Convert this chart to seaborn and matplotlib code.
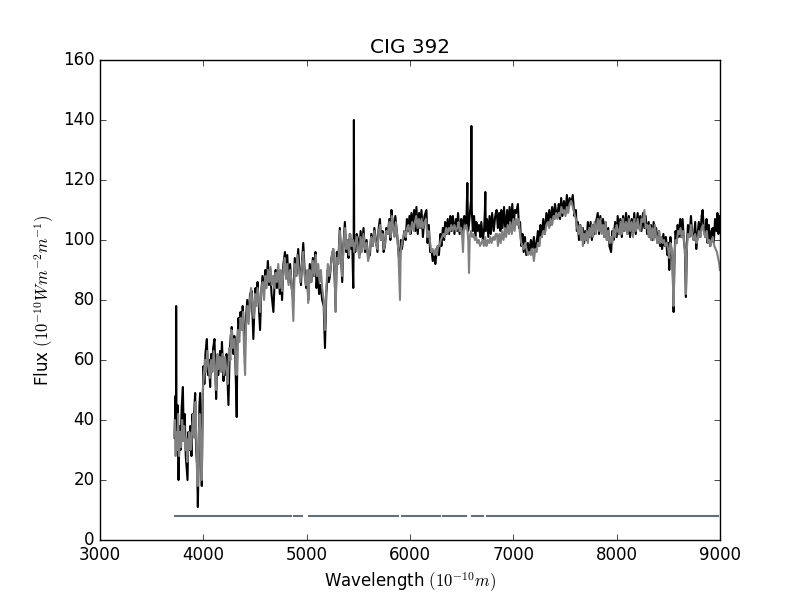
import matplotlib
matplotlib.use('Agg')
import matplotlib.pyplot as plt
import seaborn as sns
import pandas as pd

# observed spectrum (black)
obs_wave = [3722, 3730, 3735, 3737, 3740, 3750, 3760, 3770, 3780, 3790, 3802, 3810, 3820, 3830, 3847,
            3855, 3865, 3873, 3885, 3895, 3905, 3915, 3921, 3930, 3940, 3947, 3955, 3962, 3969, 3977,
            3985, 3993, 4002, 4010, 4020, 4034, 4045, 4055, 4066, 4075, 4085, 4095, 4108, 4116, 4124,
            4135, 4145, 4162, 4172, 4180, 4195, 4205, 4215, 4225, 4243, 4255, 4265, 4275, 4290, 4300,
            4310, 4323, 4330, 4340, 4350, 4360, 4370, 4381, 4392, 4404, 4415, 4425, 4440, 4452, 4468,
            4476, 4484, 4495, 4505, 4515, 4525, 4537, 4549, 4560, 4572, 4585, 4600, 4613, 4625, 4635,
            4648, 4660, 4678, 4690, 4700, 4712, 4726, 4740, 4750, 4762, 4775, 4790, 4800, 4812, 4825,
            4840, 4855, 4871, 4885, 4900, 4918, 4930, 4945, 4955, 4967, 4980, 4995, 5005, 5015, 5030,
            5045, 5060, 5072, 5085, 5095, 5108, 5120, 5135, 5150, 5165, 5177, 5190, 5205, 5215, 5225,
            5240, 5257, 5270, 5280, 5292, 5305, 5321, 5332, 5344, 5355, 5370, 5382, 5395, 5405, 5418,
            5430, 5440, 5451, 5455, 5457, 5460, 5470, 5485, 5499, 5510, 5522, 5535, 5550, 5565, 5580,
            5595, 5612, 5625, 5640, 5655, 5670, 5685, 5697, 5709, 5720, 5735, 5745, 5757, 5770, 5785,
            5800, 5810, 5821, 5832, 5845, 5858, 5869, 5880, 5890, 5901, 5912, 5922, 5933, 5945, 5958,
            5970, 5982, 5995, 6005, 6014, 6028, 6040, 6052, 6062, 6075, 6088, 6100, 6111, 6125, 6140,
            6159, 6170, 6182, 6195, 6207, 6220, 6232, 6245, 6255, 6268, 6280, 6294, 6304, 6318, 6330,
            6340, 6352, 6365, 6378, 6390, 6400, 6415, 6430, 6445, 6455, 6465, 6480, 6495, 6505, 6513,
            6525, 6540, 6548, 6555, 6562, 6570, 6580, 6590, 6594, 6598, 6608, 6620, 6632, 6642, 6655,
            6668, 6680, 6690, 6705, 6718, 6725, 6729, 6733, 6745, 6758, 6770, 6782, 6795, 6810, 6825,
            6838, 6850, 6862, 6875, 6883, 6895, 6910, 6925, 6940, 6952, 6964, 6978, 6990, 7003, 7015,
            7028, 7044, 7055, 7065, 7077, 7090, 7100, 7112, 7125, 7141, 7155, 7170, 7185, 7199, 7212,
            7225, 7238, 7250, 7262, 7275, 7290, 7305, 7320, 7334, 7348, 7360, 7375, 7390, 7403, 7415,
            7428, 7440, 7452, 7463, 7475, 7490, 7505, 7518, 7530, 7545, 7560, 7575, 7591, 7605, 7615,
            7624, 7635, 7648, 7660, 7673, 7685, 7697, 7710, 7721, 7735, 7748, 7760, 7772, 7785, 7800,
            7817, 7830, 7842, 7855, 7868, 7880, 7892, 7905, 7918, 7930, 7946, 7958, 7970, 7985, 8000,
            8010, 8022, 8035, 8050, 8062, 8075, 8091, 8105, 8118, 8130, 8145, 8158, 8170, 8185, 8203,
            8215, 8228, 8240, 8255, 8268, 8280, 8295, 8310, 8320, 8332, 8345, 8358, 8370, 8382, 8395,
            8410, 8420, 8429, 8440, 8452, 8465, 8477, 8490, 8500, 8509, 8520, 8530, 8540, 8551, 8560,
            8570, 8580, 8590, 8600, 8615, 8625, 8638, 8650, 8660, 8670, 8680, 8690, 8705, 8719, 8730,
            8745, 8760, 8770, 8783, 8795, 8810, 8822, 8832, 8845, 8858, 8870, 8880, 8892, 8905, 8918,
            8929, 8940, 8952, 8965, 8975, 8985, 8993, 8998]
obs_flux = [34, 48, 30, 78, 32, 45, 20, 38, 30, 44, 51, 35, 42, 28, 20,
            36, 30, 38, 28, 42, 35, 45, 49, 30, 25, 11, 30, 45, 49, 35,
            18, 45, 58, 52, 62, 67, 55, 60, 51, 62, 57, 64, 67, 56, 47,
            60, 55, 63, 58, 66, 53, 60, 55, 62, 45, 62, 68, 71, 62, 68,
            60, 41, 66, 74, 70, 76, 72, 78, 70, 66, 75, 80, 74, 82, 83,
            75, 67, 78, 84, 80, 86, 78, 70, 82, 88, 83, 90, 87, 93, 85,
            90, 82, 76, 86, 90, 84, 90, 82, 89, 80, 92, 96, 88, 95, 86,
            92, 84, 80, 94, 88, 97, 90, 85, 93, 99, 90, 84, 88, 80, 92,
            86, 94, 88, 96, 84, 90, 82, 85, 80, 78, 64, 82, 90, 86, 88,
            94, 97, 88, 78, 96, 92, 104, 95, 86, 98, 106, 96, 100, 94, 102,
            97, 100, 84, 100, 140, 100, 96, 102, 100, 95, 103, 97, 104, 96, 100,
            94, 95, 102, 98, 104, 100, 96, 104, 107, 100, 103, 96, 98, 104, 102,
            107, 100, 110, 106, 102, 108, 104, 100, 95, 92, 100, 97, 100, 103, 100,
            107, 103, 108, 102, 109, 104, 110, 103, 111, 102, 109, 104, 110, 101, 108,
            110, 99, 105, 96, 97, 93, 96, 92, 95, 98, 95, 102, 98, 104, 100,
            106, 102, 107, 102, 108, 103, 108, 102, 107, 103, 109, 102, 107, 102, 106,
            108, 104, 109, 119, 103, 105, 109, 113, 138, 110, 103, 108, 101, 106, 103,
            105, 101, 106, 100, 104, 110, 116, 103, 107, 101, 108, 102, 109, 103, 108,
            110, 104, 109, 103, 110, 104, 111, 102, 110, 104, 111, 105, 112, 104, 110,
            109, 112, 104, 106, 98, 102, 96, 101, 95, 99, 96, 100, 97, 101, 96,
            99, 103, 98, 105, 101, 107, 102, 109, 106, 110, 105, 111, 107, 112, 109,
            109, 112, 107, 114, 108, 113, 109, 115, 110, 114, 112, 115, 108, 110, 103,
            106, 100, 105, 100, 104, 99, 103, 100, 106, 101, 106, 100, 105, 102, 106,
            109, 102, 108, 103, 107, 101, 106, 100, 104, 98, 96, 103, 100, 106, 101,
            108, 102, 107, 101, 108, 103, 109, 102, 108, 101, 107, 102, 109, 102, 109,
            104, 108, 103, 109, 104, 108, 102, 106, 101, 105, 100, 106, 101, 104, 99,
            103, 98, 101, 97, 102, 98, 101, 95, 99, 90, 101, 96, 93, 76, 95,
            103, 99, 105, 101, 107, 101, 107, 100, 97, 81, 99, 105, 101, 108, 102,
            100, 106, 97, 102, 106, 101, 108, 110, 103, 101, 107, 99, 105, 98, 103,
            104, 99, 107, 103, 109, 102, 108, 104]

# model spectrum (grey)
mod_wave = [3718, 3725, 3732, 3740, 3748, 3756, 3765, 3775, 3785, 3795, 3805, 3815, 3825, 3835, 3845,
            3855, 3865, 3875, 3885, 3895, 3905, 3915, 3925, 3935, 3945, 3955, 3965, 3975, 3985, 3995,
            4005, 4015, 4025, 4038, 4050, 4062, 4075, 4088, 4100, 4112, 4124, 4136, 4148, 4160, 4172,
            4185, 4197, 4210, 4222, 4235, 4250, 4262, 4272, 4285, 4298, 4310, 4322, 4335, 4348, 4360,
            4372, 4385, 4395, 4404, 4414, 4426, 4438, 4450, 4462, 4475, 4488, 4500, 4512, 4525, 4538,
            4550, 4562, 4575, 4588, 4600, 4612, 4625, 4638, 4650, 4662, 4675, 4688, 4700, 4712, 4725,
            4738, 4750, 4762, 4775, 4788, 4800, 4812, 4825, 4840, 4855, 4871, 4885, 4898, 4910, 4925,
            4940, 4955, 4967, 4980, 4993, 5005, 5015, 5030, 5045, 5060, 5075, 5088, 5100, 5112, 5125,
            5138, 5150, 5165, 5177, 5190, 5205, 5218, 5230, 5245, 5257, 5270, 5280, 5292, 5305, 5321,
            5333, 5344, 5356, 5370, 5383, 5396, 5410, 5422, 5435, 5448, 5460, 5472, 5485, 5498, 5510,
            5522, 5535, 5550, 5565, 5580, 5595, 5610, 5625, 5640, 5655, 5670, 5685, 5698, 5710, 5722,
            5735, 5748, 5760, 5772, 5786, 5800, 5812, 5825, 5838, 5850, 5862, 5875, 5888, 5897, 5903,
            5910, 5922, 5935, 5948, 5960, 5972, 5985, 5998, 6010, 6022, 6035, 6048, 6060, 6073, 6086,
            6100, 6112, 6125, 6140, 6155, 6168, 6180, 6195, 6207, 6220, 6235, 6248, 6260, 6272, 6285,
            6298, 6310, 6322, 6335, 6350, 6362, 6375, 6388, 6400, 6415, 6430, 6445, 6458, 6470, 6482,
            6495, 6505, 6513, 6520, 6532, 6545, 6556, 6564, 6571, 6578, 6590, 6602, 6615, 6628, 6640,
            6652, 6665, 6678, 6690, 6702, 6715, 6728, 6740, 6752, 6765, 6778, 6790, 6805, 6818, 6830,
            6842, 6851, 6865, 6878, 6890, 6905, 6918, 6930, 6945, 6958, 6970, 6985, 7000, 7012, 7025,
            7040, 7052, 7065, 7077, 7090, 7102, 7115, 7128, 7141, 7155, 7170, 7185, 7199, 7212, 7225,
            7238, 7250, 7262, 7275, 7290, 7305, 7320, 7334, 7348, 7360, 7375, 7390, 7403, 7415, 7428,
            7440, 7452, 7465, 7478, 7490, 7505, 7518, 7530, 7545, 7560, 7575, 7590, 7605, 7618, 7630,
            7642, 7655, 7666, 7673, 7685, 7697, 7710, 7721, 7735, 7748, 7760, 7772, 7786, 7800, 7817,
            7830, 7842, 7855, 7868, 7880, 7892, 7905, 7918, 7930, 7946, 7958, 7970, 7985, 8000, 8012,
            8025, 8038, 8050, 8062, 8075, 8091, 8105, 8118, 8130, 8145, 8158, 8170, 8185, 8203, 8215,
            8228, 8240, 8255, 8268, 8280, 8295, 8310, 8320, 8332, 8345, 8358, 8370, 8382, 8395, 8410,
            8420, 8432, 8445, 8458, 8470, 8485, 8498, 8509, 8520, 8532, 8542, 8551, 8558, 8570, 8582,
            8594, 8605, 8618, 8630, 8642, 8655, 8664, 8670, 8677, 8690, 8705, 8719, 8730, 8745, 8760,
            8772, 8783, 8795, 8810, 8822, 8835, 8848, 8860, 8872, 8884, 8896, 8908, 8920, 8932, 8945,
            8958, 8970, 8982, 8993, 8999]
mod_flux = [35, 40, 28, 36, 30, 42, 28, 36, 31, 40, 33, 38, 30, 34, 26,
            32, 36, 30, 33, 38, 42, 34, 46, 27, 18, 34, 42, 30, 20, 50,
            55, 60, 56, 63, 58, 54, 60, 56, 63, 58, 50, 62, 57, 61, 56,
            62, 55, 61, 57, 52, 64, 60, 70, 64, 67, 62, 55, 70, 66, 74,
            70, 76, 62, 55, 72, 78, 72, 80, 84, 78, 74, 82, 78, 84, 80,
            76, 84, 86, 80, 88, 84, 90, 86, 91, 85, 88, 84, 89, 86, 92,
            84, 90, 83, 90, 94, 87, 92, 85, 90, 86, 73, 92, 88, 95, 90,
            86, 92, 96, 88, 85, 90, 79, 90, 86, 93, 88, 95, 88, 92, 86,
            90, 84, 80, 70, 84, 92, 88, 90, 95, 97, 90, 76, 94, 92, 103,
            94, 88, 98, 104, 97, 100, 95, 102, 98, 100, 96, 99, 101, 97, 94,
            101, 96, 102, 97, 99, 93, 96, 101, 98, 103, 99, 97, 103, 105, 100,
            102, 97, 99, 103, 102, 106, 101, 108, 104, 101, 106, 102, 96, 86, 80,
            96, 99, 101, 103, 101, 104, 105, 102, 104, 106, 103, 106, 108, 104, 107,
            104, 107, 104, 106, 107, 101, 103, 99, 96, 97, 95, 97, 95, 98, 98,
            100, 101, 102, 101, 104, 102, 104, 103, 105, 103, 105, 103, 104, 106, 103,
            104, 101, 96, 103, 104, 105, 103, 100, 89, 101, 103, 101, 102, 100, 101,
            99, 100, 98, 99, 100, 98, 101, 98, 100, 99, 101, 99, 101, 100, 102,
            102, 98, 102, 99, 103, 100, 104, 101, 105, 102, 106, 102, 107, 103, 107,
            105, 107, 102, 99, 98, 97, 99, 97, 95, 96, 95, 97, 93, 97, 96,
            99, 98, 101, 101, 103, 102, 105, 106, 104, 107, 105, 108, 107, 109, 107,
            109, 108, 111, 109, 110, 108, 111, 109, 112, 113, 111, 109, 107, 104, 102,
            105, 100, 104, 98, 102, 100, 103, 99, 104, 101, 105, 101, 106, 102, 107,
            103, 107, 102, 105, 101, 106, 100, 103, 99, 101, 99, 104, 101, 105, 103,
            102, 106, 102, 107, 103, 106, 102, 107, 103, 106, 101, 107, 103, 107, 104,
            103, 107, 106, 110, 104, 105, 101, 105, 100, 104, 100, 105, 101, 99, 103,
            99, 101, 99, 100, 98, 99, 97, 94, 99, 97, 92, 78, 94, 100, 99,
            103, 102, 104, 101, 103, 99, 94, 82, 96, 102, 101, 105, 102, 100, 102,
            99, 100, 103, 101, 104, 105, 102, 101, 103, 99, 100, 98, 100, 101, 98,
            97, 96, 94, 92, 90]

# good-pixel mask segments (start, end wavelength)
mask_start = [3725, 4880, 5027, 5919, 6319, 6600, 6748]
mask_end = [4852, 4955, 5884, 6294, 6544, 6705, 8985]
mask_level = 8

plt.style.use('classic')

obs = pd.DataFrame({'wave': obs_wave, 'flux': obs_flux})
mod = pd.DataFrame({'wave': mod_wave, 'flux': mod_flux})
seg_rows = []
for i, (a, b) in enumerate(zip(mask_start, mask_end)):
    seg_rows.append({'seg': i, 'wave': a, 'flux': mask_level})
    seg_rows.append({'seg': i, 'wave': b, 'flux': mask_level})
mask = pd.DataFrame(seg_rows)

fig, ax = plt.subplots(figsize=(8, 6), dpi=100)
sns.lineplot(data=obs, x='wave', y='flux', color='black', lw=1.5,
             estimator=None, sort=False, ax=ax)
sns.lineplot(data=mod, x='wave', y='flux', color='#808080', lw=1.5,
             estimator=None, sort=False, ax=ax)
sns.lineplot(data=mask, x='wave', y='flux', units='seg', color='#627178', lw=1.5,
             estimator=None, sort=False, ax=ax)

ax.set_xlim(3000, 9000)
ax.set_ylim(0, 160)
ax.set_title('CIG 392')
ax.set_xlabel(r'Wavelength $(10^{-10} m)$')
ax.set_ylabel(r'Flux $(10^{-10} W m^{-2} m^{-1})$')

fig.savefig('out.png', dpi=100)
